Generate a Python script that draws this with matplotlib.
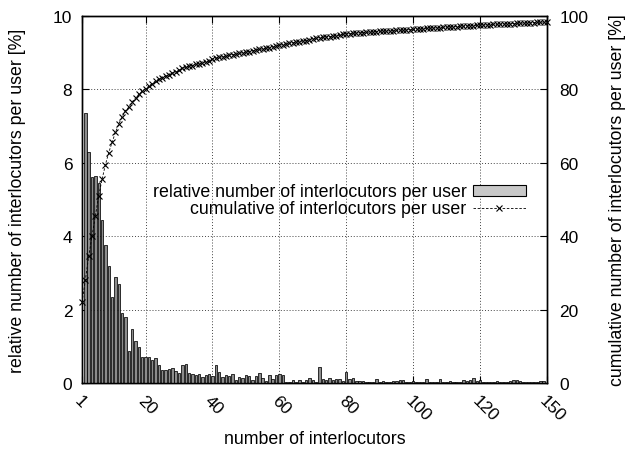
import matplotlib
matplotlib.use("Agg")
import matplotlib.pyplot as plt
import matplotlib.transforms as mtransforms
import numpy as np
from matplotlib.patches import Rectangle
from matplotlib.lines import Line2D

plt.rcParams['font.family'] = ['Liberation Sans', 'DejaVu Sans']

# relative number of interlocutors per user [%], bars at x = 2..139
bar_values = [
    7.35, 6.3, 5.6, 5.65, 5.45, 4.45, 3.75, 3.2, 2.35, 2.9,
    2.7, 1.91, 1.79, 0.86, 1.47, 1.15, 0.99, 0.70, 0.71, 0.70,
    0.63, 0.67, 0.49, 0.36, 0.36, 0.38, 0.40, 0.33, 0.26, 0.49,
    0.52, 0.26, 0.25, 0.22, 0.25, 0.15, 0.22, 0.25, 0.20, 0.49,
    0.29, 0.17, 0.22, 0.20, 0.25, 0.09, 0.16, 0.13, 0.22, 0.18,
    0.08, 0.20, 0.27, 0.13, 0.06, 0.22, 0.11, 0.22, 0.25, 0.22,
    0.02, 0.02, 0.09, 0.02, 0.09, 0.04, 0.08, 0.14, 0.08, 0.02,
    0.44, 0.11, 0.08, 0.13, 0.09, 0.10, 0.11, 0.05, 0.31, 0.11,
    0.13, 0.05, 0.05, 0.05, 0.03, 0.03, 0.03, 0.10, 0.03, 0.05,
    0.03, 0.02, 0.05, 0.06, 0.07, 0.09, 0.02, 0.02, 0.06, 0.04,
    0.04, 0.04, 0.10, 0.02, 0.02, 0.04, 0.11, 0.02, 0.02, 0.06,
    0.02, 0.02, 0.02, 0.07, 0.05, 0.07, 0.13, 0.06, 0.08, 0.04,
    0.02, 0.02, 0.02, 0.05, 0.02, 0.02, 0.02, 0.05, 0.08, 0.08,
    0.05, 0.04, 0.02, 0.04, 0.02, 0.04, 0.05, 0.06,
]
bar_x = list(range(2, 2 + len(bar_values)))

# cumulative of interlocutors per user [%], at x = 1..140
cumulative = [
    22.0, 28.0, 34.5, 40.1, 45.6, 51.0, 55.5, 59.5, 62.8, 65.6,
    68.3, 70.6, 72.5, 74.2, 75.2, 76.6, 77.7, 78.7, 79.5, 80.2,
    80.9, 81.6, 82.3, 82.8, 83.2, 83.6, 84.0, 84.4, 84.7, 85.2,
    85.7, 86.0, 86.3, 86.5, 86.8, 87.0, 87.2, 87.5, 87.7, 88.2,
    88.5, 88.7, 88.9, 89.1, 89.4, 89.5, 89.6, 89.8, 90.0, 90.2,
    90.3, 90.5, 90.8, 90.9, 91.0, 91.2, 91.3, 91.5, 91.8, 92.0,
    92.2, 92.4, 92.6, 92.7, 92.9, 93.0, 93.2, 93.3, 93.5, 93.6,
    94.0, 94.1, 94.2, 94.3, 94.4, 94.5, 94.6, 94.7, 95.0, 95.1,
    95.2, 95.3, 95.35, 95.4, 95.5, 95.55, 95.6, 95.7, 95.75, 95.8,
    95.85, 95.9, 95.95, 96.0, 96.05, 96.1, 96.15, 96.2, 96.3, 96.35,
    96.4, 96.45, 96.5, 96.6, 96.65, 96.7, 96.75, 96.8, 96.9, 96.95,
    97.0, 97.05, 97.1, 97.15, 97.2, 97.3, 97.35, 97.4, 97.45, 97.5,
    97.55, 97.6, 97.65, 97.7, 97.72, 97.75, 97.8, 97.85, 97.9, 97.95,
    98.0, 98.05, 98.1, 98.12, 98.15, 98.2, 98.25, 98.3, 98.35, 98.4,
]
cum_x = list(range(1, 1 + len(cumulative)))

xtick_pos = [1, 20, 40, 60, 80, 100, 120, 140]
xtick_labels = ["1", "20", "40", "60", "80", "100", "120", "150"]
ytick_left = [0, 2, 4, 6, 8, 10]
ytick_right = [0, 20, 40, 60, 80, 100]

FS_TICK = 12.5
FS_LAB = 12.8

fig = plt.figure(figsize=(6.31, 4.56), dpi=100)
ax = fig.add_axes([82/631, 1-384/456, (547-82)/631, (384-17)/456])
ax2 = ax.twinx()

ax.bar(bar_x, bar_values, width=0.72, color='#8c8c8c', edgecolor='black',
       linewidth=0.55, zorder=3)
ax2.plot(cum_x, cumulative, linestyle=(0, (3, 2)), color='black', linewidth=0.6,
         marker='x', markersize=4.5, markeredgewidth=0.8, zorder=4, clip_on=False)

ax.set_xlim(1, 140)
ax.set_ylim(0, 10)
ax2.set_ylim(0, 100)

ax.set_xticks(xtick_pos)
ax.set_xticklabels(xtick_labels, rotation=-45, ha='left', va='top',
                   rotation_mode='anchor', fontsize=FS_TICK)
offset = mtransforms.ScaledTranslation(6/100, 0, fig.dpi_scale_trans)
for lab in ax.get_xticklabels():
    lab.set_transform(lab.get_transform() + offset)
ax.set_yticks(ytick_left)
ax.set_yticklabels([str(v) for v in ytick_left], fontsize=FS_TICK)
ax2.set_yticks(ytick_right)
ax2.set_yticklabels([str(v) for v in ytick_right], fontsize=FS_TICK)

ax.tick_params(axis='both', direction='in', length=5, width=0.8, top=True)
ax.tick_params(axis='x', pad=7)
ax.tick_params(axis='y', pad=7)
ax2.tick_params(axis='y', direction='in', length=5, width=0.8, pad=9)

ax.grid(True, linestyle=(0, (1, 2)), color='#444444', linewidth=0.7, zorder=1)
ax.set_axisbelow(True)

for a in (ax, ax2):
    for s in a.spines.values():
        s.set_linewidth(1.0)

ax.set_xlabel("number of interlocutors", fontsize=FS_LAB)
ax.xaxis.set_label_coords(0.5, (384 - 440) / 367)
ax.xaxis.label.set_va('center')
ax.set_ylabel("relative number of interlocutors per user [%]", fontsize=FS_LAB)
ax.yaxis.set_label_coords((18 - 82) / 465, 0.5)
ax.yaxis.label.set_va('center')
ax2.set_ylabel("cumulative number of interlocutors per user [%]", fontsize=FS_LAB,
               rotation=90)
ax2.yaxis.set_label_coords((617 - 82) / 465, 0.5)
ax2.yaxis.label.set_va('center')

handles = [
    Rectangle((0, 0), 1, 1, facecolor='#c8c8c8', edgecolor='black', linewidth=0.8),
    Line2D([], [], linestyle=(0, (3, 2)), color='black', linewidth=0.6,
           marker='x', markersize=4.5, markeredgewidth=0.8),
]
labels = ["relative number of interlocutors per user",
          "cumulative of interlocutors per user"]
leg = ax.legend(handles, labels, loc='center right',
                bbox_to_anchor=(0.955, (384 - 201.5) / 367),
                frameon=False, fontsize=FS_LAB, markerfirst=False,
                handlelength=3.0, handleheight=0.6, labelspacing=0.0,
                handletextpad=0.35, borderpad=0.0, borderaxespad=0.0)
for t in leg.get_texts():
    t.set_ha('right')
leg._legend_box.align = 'right'
leg.set_zorder(10)

fig.savefig("out.png", dpi=100)
